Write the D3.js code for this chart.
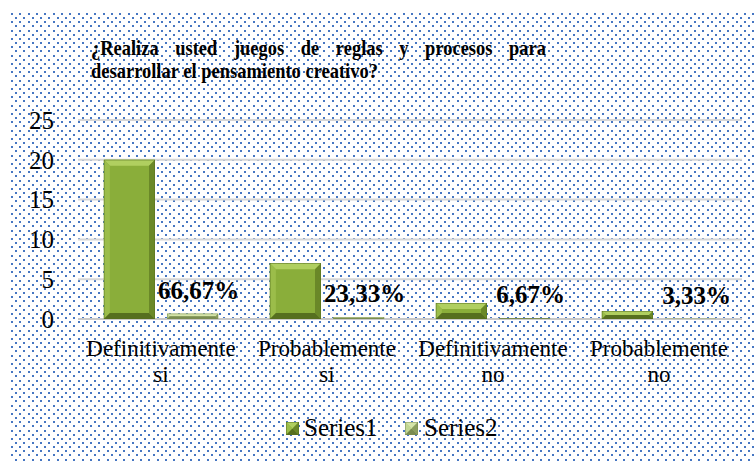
<!DOCTYPE html>
<html>
<head>
<meta charset="utf-8">
<script src="https://cdn.jsdelivr.net/npm/d3@7"></script>
<style>
    html, body { margin: 0; padding: 0; background: #ffffff; }
</style>
</head>
<body>
<svg id="chart"></svg>
<script>
const categories  = ['Definitivamente si', 'Probablemente si', 'Definitivamente no', 'Probablemente no'];
const seriesNames = ['Series1', 'Series2'];
const series1     = [20, 7, 2, 1];
const series2     = [0.6667, 0.2333, 0.0667, 0.0333];
const yTicks      = [0, 5, 10, 15, 20, 25];
const titleLines  = ['¿Realiza usted juegos de reglas y procesos para',
                     'desarrollar el pensamiento creativo?'];

class BarChart {
    constructor (selector) {
        this.w = 754;
        this.h = 461;
        this.svg = d3.select(selector)
            .attr('width', this.w)
            .attr('height', this.h);

        // bevel colours for each series: face, light, side, dark, shadow
        this.looks = [
            { face: '#8aae3a', light: '#b0cf60', side: '#9bbd4a', dark: '#6a8828', shadow: '#566f1f' },
            { face: '#b5cb82', light: '#d6e5aa', side: '#c3d794', dark: '#8c9f60', shadow: '#7a8c52' },
        ];

        this.x = d3.scaleBand().domain(categories).range([78, 742]).padding(0);
        this.xs = d3.scaleBand().domain(seriesNames)
            .range([0, this.x.bandwidth()])
            .paddingInner(0.19)
            .paddingOuter(0.41);
        this.y = d3.scaleLinear().domain([0, 25]).range([319, 120]);

        this.pct = d3.formatLocale({
            decimal: ',', thousands: '.', grouping: [3], currency: ['', ' €'], percent: '%'
        }).format('.2%');

        this.ctx = document.createElement('canvas').getContext('2d');
    }
    measure (str, font) {
        this.ctx.font = font;
        return this.ctx.measureText(str).width;
    }
    txt (sel, size, bold) {
        sel.style('font-family', '"Liberation Serif"')
            .attr('font-size', size);
        if (bold)
            sel.attr('font-weight', 'bold');
        return sel;
    }
    drawBackground () {
        // dotted fill of the chart area, drawn dot by dot
        let dots = [];
        let step = 8.33;
        for (let r = 0; 13 + r * step / 2 < this.h; r++)
            for (let c = 0; 11 + c * step + (r % 2) * step / 2 < this.w; c++)
                dots.push({
                    x: Math.round(11 + c * step + (r % 2) * step / 2),
                    y: Math.round(13 + r * step / 2)
                });

        this.svg.append('g').attr('class', 'dots')
            .selectAll('rect')
            .data(dots)
            .enter()
            .append('rect')
            .attr('x', (d) => { return d.x; })
            .attr('y', (d) => { return d.y; })
            .attr('width', 2)
            .attr('height', 2)
            .attr('fill', '#4676c2');
    }
    drawTitle () {
        let size = 21;
        let cfont = 'bold ' + size + 'px "Liberation Serif"';

        let left = 91;
        let natural = this.measure(titleLines[1], cfont);
        let squeeze = Math.min(1, 287 / natural);
        this.txt(this.svg.append('text'), size, true)
            .attr('x', left).attr('y', 78)
            .attr('textLength', natural * squeeze)
            .attr('lengthAdjust', 'spacingAndGlyphs')
            .text(titleLines[1]);

        // first line is justified between left and right edge
        let words = titleLines[0].split(' ');
        let widths = words.map((w) => this.measure(w, cfont) * squeeze);
        let right = 546;
        let gap = (right - left - d3.sum(widths)) / (words.length - 1);
        let cx = left;
        words.forEach((w, i) => {
            this.txt(this.svg.append('text'), size, true)
                .attr('x', cx).attr('y', 55)
                .attr('textLength', widths[i])
                .attr('lengthAdjust', 'spacingAndGlyphs')
                .text(w);
            cx += widths[i] + gap;
        });
    }
    drawGrid () {
        this.svg.append('g').attr('class', 'grid')
            .selectAll('line')
            .data(yTicks)
            .enter()
            .append('line')
            .attr('x1', 78)
            .attr('x2', 742)
            .attr('y1', (d) => { return this.y(d); })
            .attr('y2', (d) => { return this.y(d); })
            .attr('stroke', (d) => { return d === 0 ? '#c9c9c9' : '#d6d6d6'; })
            .attr('stroke-width', 2);
    }
    drawAxes () {
        yTicks.forEach((d) => {
            this.txt(this.svg.append('text'), 25, false)
                .attr('text-anchor', 'end')
                .attr('x', 54)
                .attr('y', this.y(d))
                .attr('dy', '0.35em')
                .text(d);
        });

        categories.forEach((d) => {
            let cut = d.lastIndexOf(' ');
            let cx = this.x(d) + this.x.bandwidth() / 2;
            this.txt(this.svg.append('text'), 23, false)
                .attr('text-anchor', 'middle')
                .attr('x', cx)
                .attr('y', 356)
                .text(d.slice(0, cut));
            this.txt(this.svg.append('text'), 23, false)
                .attr('text-anchor', 'middle')
                .attr('x', cx)
                .attr('y', 382)
                .text(d.slice(cut + 1));
        });
    }
    bevel (g, x, y, w, h, look) {
        let b = Math.min(6, h / 2, w / 2);
        g.append('rect')
            .attr('x', x).attr('y', y)
            .attr('width', w).attr('height', h)
            .attr('fill', look.face);

        let faces = [
            { pts: [[x, y], [x + w, y], [x + w - b, y + b], [x + b, y + b]], c: look.light },
            { pts: [[x, y], [x + b, y + b], [x + b, y + h - b], [x, y + h]], c: look.side },
            { pts: [[x + w, y], [x + w, y + h], [x + w - b, y + h - b], [x + w - b, y + b]], c: look.dark },
            { pts: [[x, y + h], [x + b, y + h - b], [x + w - b, y + h - b], [x + w, y + h]], c: look.shadow },
        ];
        g.selectAll(null)
            .data(faces)
            .enter()
            .append('polygon')
            .attr('points', (d) => { return d.pts.map((p) => p.join(',')).join(' '); })
            .attr('fill', (d) => { return d.c; });

        g.append('rect')
            .attr('x', x + 0.25).attr('y', y + 0.25)
            .attr('width', Math.max(0, w - 0.5)).attr('height', Math.max(0, h - 0.5))
            .attr('fill', 'none')
            .attr('stroke', look.shadow)
            .attr('stroke-width', 0.5);
    }
    drawBars () {
        let all = [series1, series2];
        let bars = this.svg.append('g').attr('class', 'bars');

        all.forEach((values, si) => {
            values.forEach((v, ci) => {
                let x = this.x(categories[ci]) + this.xs(seriesNames[si]);
                let y = this.y(v);
                let h = this.y(0) - y;
                this.bevel(bars.append('g'), x, y, this.xs.bandwidth(), h, this.looks[si]);
            });
        });

        series2.forEach((d, i) => {
            this.txt(this.svg.append('text'), 25, true)
                .attr('text-anchor', 'middle')
                .attr('x', this.x(categories[i]) + this.xs(seriesNames[1]) + this.xs.bandwidth() / 2 + 6)
                .attr('y', this.y(d) - 15)
                .text(this.pct(d));
        });
    }
    drawLegend () {
        let items = [
            { name: seriesNames[0], sx: 286, tx: 304 },
            { name: seriesNames[1], sx: 405, tx: 424 },
        ];
        let g = this.svg.append('g').attr('class', 'legend');
        items.forEach((it, i) => {
            this.bevel(g.append('g'), it.sx, 422, 13, 13, this.looks[i === 0 ? 0 : 1]);
            this.txt(this.svg.append('text'), 25, false)
                .attr('x', it.tx)
                .attr('y', 436)
                .text(it.name);
        });
    }
    draw () {
        this.drawBackground();
        this.drawTitle();
        this.drawGrid();
        this.drawAxes();
        this.drawBars();
        this.drawLegend();
    }
}

new BarChart('#chart').draw();
</script>
</body>
</html>
